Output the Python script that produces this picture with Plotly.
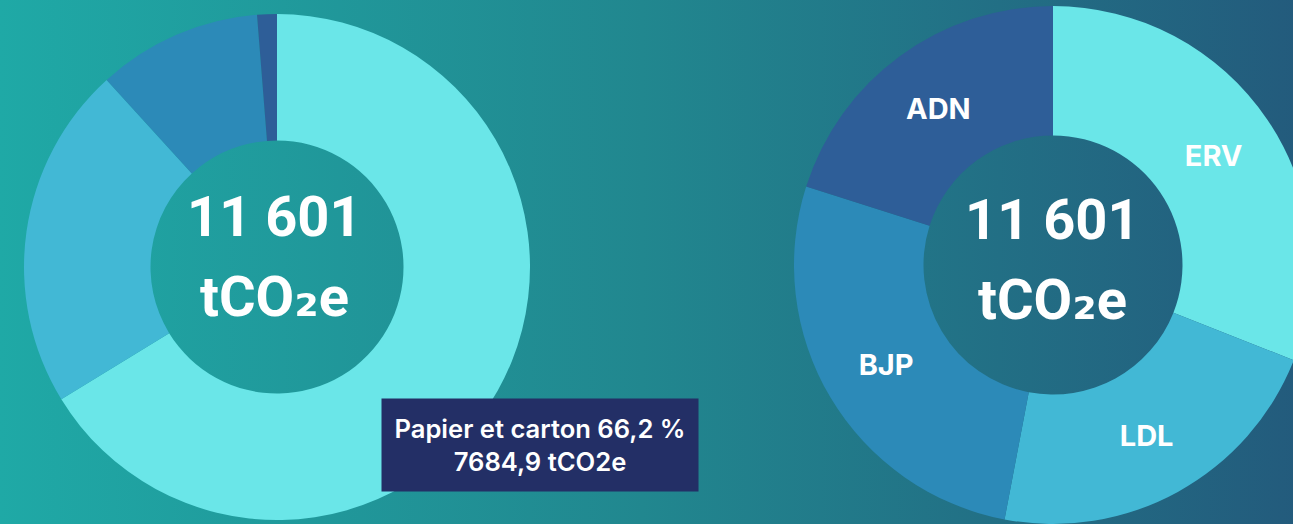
import base64
import plotly.graph_objects as go

# ---- data ----
left_labels = ["Papier et carton", "Plastiques", "Métaux", "Autres"]
left_values = [7684.9, 2552.0, 1218.0, 146.1]
left_colors = ["#6AE6E8", "#42B8D5", "#2C8AB8", "#2E5E98"]

right_labels = ["ERV", "LDL", "BJP", "ADN"]
right_values = [3596, 2552, 3121, 2332]
right_colors = ["#6AE6E8", "#42B8D5", "#2C8AB8", "#2E5E98"]

unit_html = "tCO<span style='font-family:DejaVu Sans'>₂</span>e"
hover_index = 0

# ---- layout geometry ----
W, H = 1312, 524
FONT = "Inter"
BIG_FONT = "Roboto"


def px_x(p):
    return p / W


def px_y(p):
    return 1 - p / H


total = sum(left_values)
total_txt = f"{round(total):,}".replace(",", " ")

svg = f'''<svg xmlns="http://www.w3.org/2000/svg" width="{W}" height="{H}" preserveAspectRatio="none">
<defs><linearGradient id="g" x1="0" y1="0" x2="1" y2="0">
<stop offset="0" stop-color="#1FA9A6"/>
<stop offset="0.49" stop-color="#21878F"/>
<stop offset="1" stop-color="#235A7C"/>
</linearGradient></defs>
<rect width="{W}" height="{H}" fill="url(#g)"/></svg>'''
bg_uri = "data:image/svg+xml;base64," + base64.b64encode(svg.encode()).decode()

fig = go.Figure()

fig.add_trace(go.Pie(
    labels=left_labels, values=left_values, hole=0.5, sort=False,
    direction="clockwise", rotation=0,
    marker=dict(colors=left_colors, line=dict(width=0)),
    textinfo="none", showlegend=False, hoverinfo="none",
    domain=dict(x=[px_x(24), px_x(530)], y=[px_y(520), px_y(14)]),
))

fig.add_trace(go.Pie(
    labels=right_labels, values=right_values, hole=0.5, sort=False,
    direction="clockwise", rotation=0,
    marker=dict(colors=right_colors, line=dict(width=0)),
    textinfo="label", textposition="inside", insidetextorientation="horizontal",
    textfont=dict(family=FONT, size=29, color="white", weight=700),
    showlegend=False, hoverinfo="none",
    domain=dict(x=[px_x(794), 1.0], y=[0.0, px_y(6)]),
))

annotations = []
for cx, dy in ((274, -1), (1052, 2)):
    annotations.append(dict(x=px_x(cx), y=px_y(218 + dy), xref="paper", yref="paper",
                            xanchor="center", yanchor="middle",
                            text=total_txt, showarrow=False,
                            font=dict(family=BIG_FONT, size=56, color="white", weight=700)))
    annotations.append(dict(x=px_x(cx), y=px_y(298 + dy), xref="paper", yref="paper",
                            xanchor="center", yanchor="middle",
                            text=unit_html, showarrow=False,
                            font=dict(family=BIG_FONT, size=56, color="white", weight=700)))

pct = left_values[hover_index] / total * 100
tip = (f"{left_labels[hover_index]} {pct:.1f} %".replace(".", ",")
       + "<br>" + f"{left_values[hover_index]:.1f}".replace(".", ",") + " tCO2e")
annotations.append(dict(x=px_x(540), y=px_y(445), xref="paper", yref="paper",
                        xanchor="center", yanchor="middle",
                        text=tip, showarrow=False, width=316, height=92, borderpad=0,
                        bgcolor="#232F66",
                        font=dict(family=FONT, size=25.6, color="white", weight=600)))

fig.update_layout(
    width=W, height=H,
    margin=dict(l=0, r=0, t=0, b=0),
    paper_bgcolor="rgba(0,0,0,0)", plot_bgcolor="rgba(0,0,0,0)",
    images=[dict(source=bg_uri, xref="paper", yref="paper", x=0, y=1,
                 sizex=1, sizey=1, sizing="stretch", layer="below",
                 xanchor="left", yanchor="top")],
    annotations=annotations,
)

fig.write_html("out.html")
